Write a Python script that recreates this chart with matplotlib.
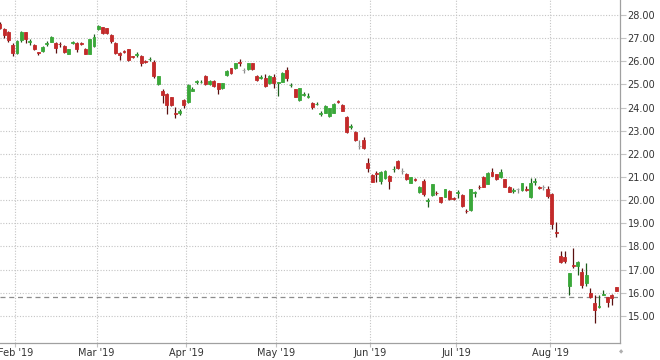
import matplotlib
matplotlib.use("Agg")
import matplotlib.pyplot as plt
import pandas as pd
import numpy as np

# trading days shown (Jan 28 .. Aug 22 2019), US market holidays removed
holidays = ["2019-02-18", "2019-04-19", "2019-05-27", "2019-07-04"]
dates = pd.bdate_range("2019-01-28", "2019-08-22")
dates = dates[~dates.isin(pd.to_datetime(holidays))]

opens = [27.62, 27.38, 27.28, 26.70, 26.35, 26.92, 27.25, 26.83, 26.70, 26.39,
         26.46, 26.76, 26.85, 26.80, 26.77, 26.66, 26.32, 26.80, 26.78, 26.78,
         26.52, 26.32, 26.66, 27.38, 27.47, 27.42, 27.14, 26.78, 26.35, 26.44,
         26.52, 26.21, 26.28, 26.23, 26.00, 26.08, 25.98, 25.00, 24.73, 24.59,
         24.44, 23.77, 23.78, 24.33, 24.26, 24.73, 25.10, 25.09, 25.36, 25.00,
         25.15, 25.05, 24.83, 25.41, 25.70, 25.70, 25.98, 25.62, 25.65, 25.91,
         25.36, 25.29, 25.27, 25.05, 25.33, 25.05, 25.12, 25.62, 24.96, 24.79,
         24.33, 24.55, 24.48, 24.21, 24.14, 23.73, 23.78, 23.64, 23.78, 24.28,
         24.11, 23.61, 23.18, 22.96, 22.34, 22.60, 21.62, 21.09, 21.18, 20.84,
         20.95, 21.04, 21.33, 21.71, 21.26, 21.13, 20.76, 20.92, 20.35, 20.85,
         19.98, 20.22, 20.32, 20.12, 20.15, 20.41, 20.10, 20.31, 20.22, 19.55,
         19.58, 20.32, 20.58, 21.02, 20.70, 21.23, 21.12, 20.99, 20.90, 20.58,
         20.40, 20.47, 20.44, 20.49, 20.12, 20.78, 20.56, 20.56, 20.47, 20.27,
         18.63, 17.59, 17.53, 16.29, 17.18, 17.16, 16.90, 16.41, 16.00, 15.55,
         15.38, 15.91, 15.80, 15.91, 16.24]
highs = [27.70, 27.42, 27.32, 26.78, 26.92, 27.30, 27.28, 26.95, 26.74, 26.42,
         26.66, 26.86, 27.10, 26.84, 26.82, 26.72, 26.55, 26.90, 26.82, 26.83,
         26.56, 26.98, 27.20, 27.58, 27.50, 27.45, 27.18, 26.82, 26.41, 26.50,
         26.55, 26.24, 26.41, 26.26, 26.04, 26.20, 26.06, 25.38, 24.79, 24.62,
         24.47, 24.01, 23.95, 24.38, 25.00, 24.90, 25.20, 25.18, 25.40, 25.18,
         25.18, 25.08, 25.08, 25.62, 25.73, 25.94, 26.09, 25.72, 25.94, 25.94,
         25.39, 25.40, 25.45, 25.40, 25.45, 25.12, 25.55, 25.75, 25.05, 24.82,
         24.86, 24.68, 24.62, 24.25, 24.25, 23.85, 24.10, 24.00, 24.20, 24.35,
         24.14, 23.64, 23.30, 22.99, 22.60, 22.74, 21.81, 21.14, 21.27, 21.26,
         21.30, 21.07, 21.48, 21.74, 21.40, 21.16, 21.02, 20.96, 20.61, 20.90,
         20.08, 20.72, 20.40, 20.15, 20.50, 20.44, 20.14, 20.42, 20.25, 19.62,
         20.50, 20.40, 20.66, 21.06, 21.22, 21.38, 21.15, 21.35, 20.93, 20.61,
         20.52, 20.52, 20.76, 20.60, 20.95, 20.95, 20.60, 20.66, 20.60, 20.30,
         19.07, 17.80, 17.80, 16.87, 17.92, 17.36, 17.06, 17.30, 16.20, 15.90,
         15.90, 16.12, 15.83, 15.94, 16.27]
lows = [27.38, 27.00, 26.85, 26.23, 26.30, 26.85, 26.80, 26.70, 26.48, 26.27,
        26.42, 26.66, 26.82, 26.37, 26.62, 26.36, 26.30, 26.74, 26.40, 26.70,
        26.30, 26.30, 26.60, 27.36, 27.20, 27.18, 26.78, 26.32, 26.06, 26.36,
        26.03, 26.14, 26.20, 25.80, 25.92, 26.00, 25.27, 24.98, 24.19, 23.72,
        24.08, 23.54, 23.70, 23.98, 24.20, 24.70, 25.00, 25.06, 24.97, 24.98,
        24.88, 24.59, 24.80, 25.38, 25.45, 25.68, 25.80, 25.50, 25.62, 25.62,
        25.16, 25.22, 24.90, 25.02, 24.85, 24.51, 25.10, 25.15, 24.88, 24.44,
        24.30, 24.50, 24.40, 23.92, 24.10, 23.62, 23.75, 23.60, 23.75, 24.22,
        23.84, 22.90, 23.08, 22.57, 22.20, 22.20, 21.23, 20.77, 20.80, 20.72,
        20.92, 20.47, 21.20, 21.35, 21.15, 20.87, 20.73, 20.85, 20.32, 20.20,
        19.72, 20.20, 20.24, 19.90, 20.12, 20.00, 20.02, 20.10, 19.72, 19.43,
        19.55, 20.15, 20.50, 20.55, 20.68, 21.03, 20.87, 20.96, 20.55, 20.34,
        20.30, 20.32, 20.41, 20.38, 20.10, 20.65, 20.50, 20.44, 20.08, 18.74,
        18.40, 17.29, 17.30, 15.91, 17.06, 16.77, 16.20, 16.30, 15.77, 14.71,
        15.35, 15.90, 15.37, 15.47, 16.06]
closes = [27.43, 27.14, 26.92, 26.35, 26.89, 27.25, 26.95, 26.86, 26.52, 26.36,
          26.60, 26.79, 27.06, 26.56, 26.74, 26.41, 26.52, 26.83, 26.52, 26.75,
          26.32, 26.95, 27.06, 27.52, 27.24, 27.21, 26.89, 26.35, 26.28, 26.41,
          26.06, 26.18, 26.31, 25.91, 25.97, 26.11, 25.36, 25.36, 24.54, 24.11,
          24.11, 23.74, 23.87, 24.11, 24.98, 24.80, 25.13, 25.12, 25.00, 25.15,
          24.92, 24.79, 25.05, 25.59, 25.48, 25.91, 25.94, 25.62, 25.91, 25.65,
          25.19, 25.32, 24.93, 25.36, 25.05, 25.09, 25.51, 25.27, 24.99, 24.47,
          24.83, 24.58, 24.51, 24.01, 24.17, 23.76, 24.07, 23.97, 24.16, 24.25,
          23.87, 22.93, 23.21, 22.60, 22.34, 22.24, 21.38, 20.80, 21.15, 21.23,
          21.27, 20.84, 21.36, 21.38, 21.26, 20.90, 20.99, 20.89, 20.58, 20.25,
          20.01, 20.69, 20.29, 19.94, 20.47, 20.04, 20.07, 20.34, 19.75, 19.52,
          20.47, 20.35, 20.55, 20.58, 21.19, 21.06, 20.90, 21.23, 20.58, 20.37,
          20.43, 20.47, 20.73, 20.46, 20.73, 20.81, 20.53, 20.56, 20.18, 18.97,
          18.60, 17.34, 17.39, 16.84, 17.14, 17.33, 16.34, 16.77, 15.80, 15.26,
          15.41, 15.94, 15.62, 15.76, 16.09]
ref_price = 15.80
y_ticks = list(range(15, 29))

RED, GREEN, GREY = "#c32a2a", "#3aa83a", "#a8a8a8"
RED_W, GREEN_W, GREY_W = "#5a1010", "#1d5e1d", "#8a8a8a"

fig = plt.figure(figsize=(6.6, 3.6), dpi=100)
ax = fig.add_axes([0, 17 / 360, 620 / 660, 343 / 360])

x = np.arange(len(dates))
o = np.array(opens); h = np.array(highs); l = np.array(lows); c = np.array(closes)
body_col = np.where(c > o, GREEN, np.where(c < o, RED, GREY))
wick_col = np.where(c > o, GREEN_W, np.where(c < o, RED_W, GREY_W))

ax.vlines(x, l, h, colors=wick_col, linewidth=0.9, zorder=3)
ax.bar(x, c - o, bottom=o, width=0.68, color=body_col, edgecolor=body_col,
       linewidth=0.6, zorder=4)

ax.axhline(ref_price, color="#8c8c8c", linestyle=(0, (4, 3)), linewidth=0.9, zorder=2)

# month gridlines at first trading day of each month
months = pd.Series(x, index=dates).groupby(dates.to_period("M")).first()
months = months[months.index >= pd.Period("2019-02", "M")]
ax.set_xticks(months.values - 0.4)
ax.set_xticklabels([p.strftime("%b '%y") for p in months.index])
ax.set_yticks(y_ticks)
ax.set_yticklabels(["%.2f" % v for v in y_ticks])

ax.set_xlim(0.03, 144.9)
ax.set_ylim(13.83, 28.65)
ax.yaxis.tick_right()
ax.grid(True, color="#c4c4c4", linestyle=(0, (1, 1.5)), linewidth=0.8, zorder=0)
for s in ["top", "left"]:
    ax.spines[s].set_visible(False)
for s in ["right", "bottom"]:
    ax.spines[s].set_color("#a0a0a0")
    ax.spines[s].set_linewidth(0.9)
ax.tick_params(axis="y", length=4, color="#c4c4c4", labelsize=7,
               labelcolor="#333333", pad=1.5)
ax.tick_params(axis="x", length=3, color="#c4c4c4", labelsize=7,
               labelcolor="#333333", pad=0.5)

fig.text(621 / 660, 1 - 352 / 360, "\u25c6", fontsize=4, color="#b0b0b0",
         ha="center", va="center")

fig.savefig("out.png", dpi=100)
